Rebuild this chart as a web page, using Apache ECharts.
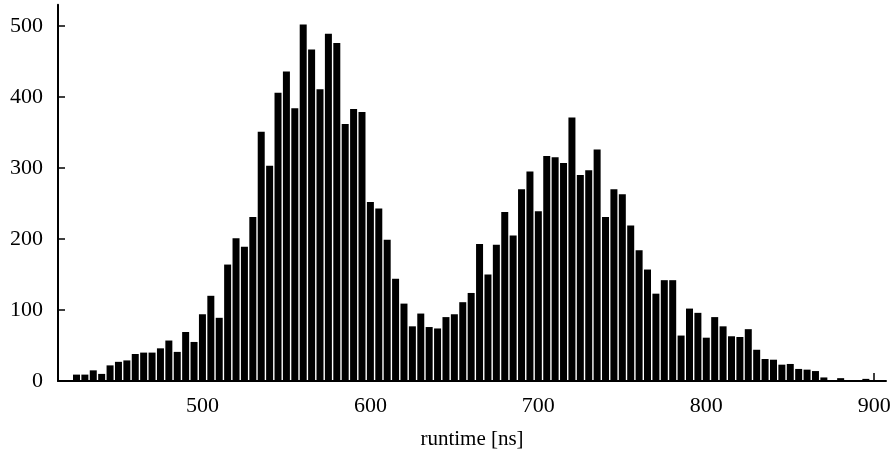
<!DOCTYPE html>
<html>
<head>
<meta charset="utf-8">
<script src="https://cdn.jsdelivr.net/npm/echarts@6/dist/echarts.min.js"></script>
<style>html,body{margin:0;padding:0;background:#fff;}#c{width:894px;height:452px;}</style>
</head>
<body>
<div id="c"></div>
<script>
const binCenters = [425,430,435,440,445,450,455,460,465,470,475,480,485,490,495,500,505,510,515,520,525,530,535,540,545,550,555,560,565,570,575,580,585,590,595,600,605,610,615,620,625,630,635,640,645,650,655,660,665,670,675,680,685,690,695,700,705,710,715,720,725,730,735,740,745,750,755,760,765,770,775,780,785,790,795,800,805,810,815,820,825,830,835,840,845,850,855,860,865,870,875,880,885,890,895];
const counts = [9,9,15,10,22,27,29,38,40,40,46,57,41,69,55,94,120,89,164,201,189,231,351,303,406,436,384,502,467,411,489,476,362,383,
  379,252,243,199,144,109,77,95,76,74,90,94,111,124,193,150,192,238,205,270,295,239,317,315,307,371,290,297,326,231,270,263,219,
  184,157,123,142,142,64,102,96,61,90,77,63,62,73,44,31,30,23,24,17,16,14,5,1,4,1,1,3];
const xTicks = [500,600,700,800,900];
const yTicks = [0,100,200,300,400,500];
const xName = 'runtime [ns]';

const chart = echarts.init(document.getElementById('c'), null, {renderer:'canvas'});
const font = 'Liberation Serif';
chart.setOption({
  animation: false,
  backgroundColor: '#fff',
  grid: {left: 58, right: 8, top: 4.7, bottom: 71, containLabel: false, outerBoundsMode: 'none'},
  xAxis: {
    type: 'value', min: 414, max: 907,
    name: xName, nameLocation: 'middle', nameGap: 48,
    nameTextStyle: {fontFamily: font, fontSize: 21, color: '#000'},
    axisLine: {show: true, onZero: false, lineStyle: {color: '#000', width: 2}},
    axisTick: {show: true, inside: true, length: 8, customValues: xTicks, lineStyle: {color: '#000', width: 1.5}},
    axisLabel: {customValues: xTicks, fontFamily: font, fontSize: 22, color: '#000', margin: 14},
    splitLine: {show: false}
  },
  yAxis: {
    type: 'value', min: 0, max: 530,
    axisLine: {show: true, lineStyle: {color: '#000', width: 2}},
    axisTick: {show: true, inside: true, length: 7, customValues: yTicks, lineStyle: {color: '#000', width: 1.5}},
    axisLabel: {customValues: yTicks, fontFamily: font, fontSize: 22, color: '#000', margin: 15},
    splitLine: {show: false}
  },
  series: [{
    type: 'bar',
    data: binCenters.map((c, i) => [c, counts[i]]),
    barWidth: 7,
    itemStyle: {color: '#000'}
  }]
});
</script>
</body>
</html>
